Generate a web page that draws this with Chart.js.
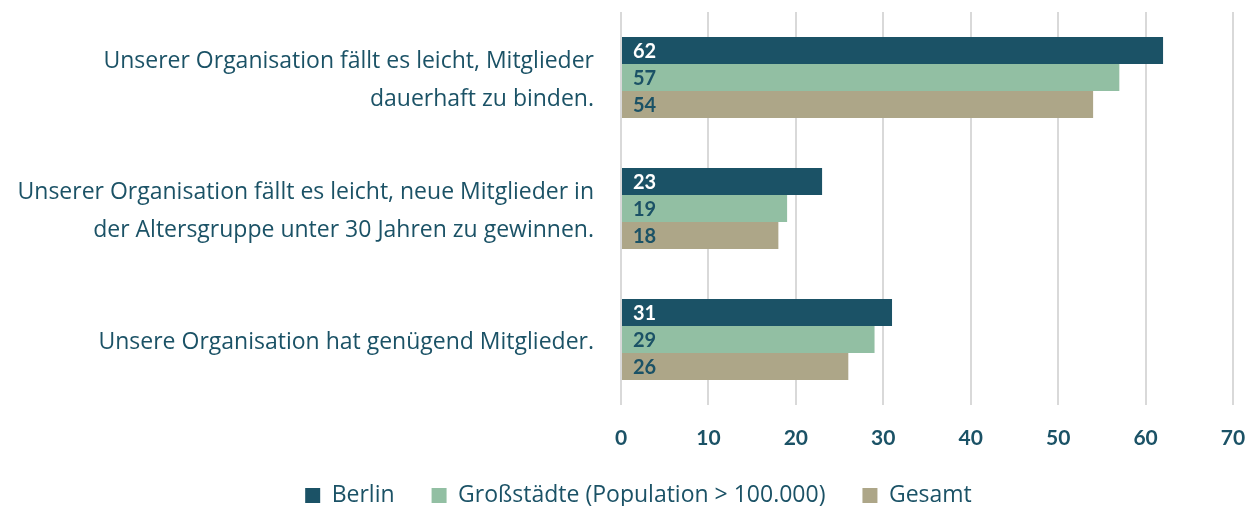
<!DOCTYPE html>
<html>
<head>
<meta charset="utf-8">
<script src="https://cdn.jsdelivr.net/npm/chart.js@4/dist/chart.umd.min.js"></script>
<style>
  html, body { margin: 0; padding: 0; background: #fff; }
  #wrap { width: 1255px; height: 506px; }
</style>
</head>
<body>
<div id="wrap"><canvas id="chart"></canvas></div>
<script>
const categories = [
  ['Unserer Organisation fällt es leicht, Mitglieder', 'dauerhaft zu binden.'],
  ['Unserer Organisation fällt es leicht, neue Mitglieder in', 'der Altersgruppe unter 30 Jahren zu gewinnen.'],
  ['Unsere Organisation hat genügend Mitglieder.']
];
const berlin = [62, 23, 31];
const grossstaedte = [57, 19, 29];
const gesamt = [54, 18, 26];
const seriesNames = ['Berlin', 'Großstädte (Population > 100.000)', 'Gesamt'];

const teal = '#1B5266';

// value labels inside the bars, near the start
const valueLabels = {
  id: 'valueLabels',
  afterDatasetsDraw(chart) {
    const ctx = chart.ctx;
    ctx.save();
    ctx.font = 'bold 20px Lato';
    ctx.textBaseline = 'middle';
    ctx.textAlign = 'left';
    chart.data.datasets.forEach((ds, i) => {
      chart.getDatasetMeta(i).data.forEach((bar, j) => {
        ctx.fillStyle = i === 0 ? '#ffffff' : teal;
        ctx.fillText(ds.data[j], bar.base + 11, bar.y + 1);
      });
    });
    ctx.restore();
  }
};

// keep wide gaps between legend items without making the legend tall,
// and centre it a little to the right like the original
const legendFit = {
  id: 'legendFit',
  afterInit(chart) {
    const fit = chart.legend.fit;
    chart.legend.fit = function () {
      fit.call(this);
      this.height = 59;
    };
  },
  afterLayout(chart) {
    chart.legend.left += 22;
    chart.legend.right += 22;
  }
};

new Chart(document.getElementById('chart').getContext('2d'), {
  type: 'bar',
  data: {
    labels: categories,
    datasets: [
      { label: seriesNames[0], data: berlin, backgroundColor: teal },
      { label: seriesNames[1], data: grossstaedte, backgroundColor: '#92BFA3' },
      { label: seriesNames[2], data: gesamt, backgroundColor: '#ADA688' }
    ]
  },
  options: {
    indexAxis: 'y',
    responsive: true,
    maintainAspectRatio: false,
    animation: false,
    datasets: { bar: { categoryPercentage: 0.62, barPercentage: 1 } },
    layout: { padding: { top: 12, right: 22, left: 0, bottom: 0 } },
    scales: {
      x: {
        min: 0,
        max: 70,
        ticks: { stepSize: 10, color: teal, font: { family: 'Lato', size: 21, weight: 'bold' }, padding: 21 },
        grid: { color: '#D9D9D9', lineWidth: 2, drawTicks: false },
        border: { display: false },
        afterFit(scale) { scale.height = 42; scale.paddingLeft = 0; scale.paddingRight = 0; }
      },
      y: {
        ticks: { color: teal, font: { family: 'Open Sans', size: 23, lineHeight: 1.65 }, padding: 19, labelOffset: 3 },
        grid: { display: false },
        border: { display: false },
        afterFit(scale) { scale.width = 621; scale.paddingTop = 0; scale.paddingBottom = 0; }
      }
    },
    plugins: {
      legend: {
        position: 'bottom',
        labels: {
          color: teal,
          font: { family: 'Open Sans', size: 23 },
          boxWidth: 15,
          boxHeight: 15,
          padding: 37
        }
      },
      tooltip: { enabled: false }
    }
  },
  plugins: [valueLabels, legendFit]
});
</script>
</body>
</html>
